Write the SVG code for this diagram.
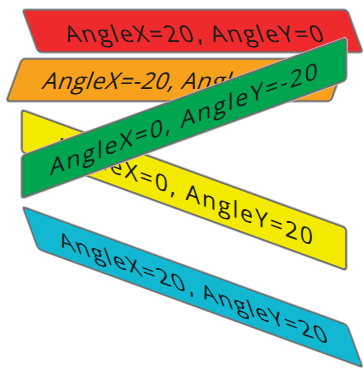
<svg xmlns="http://www.w3.org/2000/svg" width="363" height="371" viewBox="0 0 363 371">
<style>
.halo{fill:none;stroke:#c4c4c4;stroke-width:3.5}
.box{stroke:#6e6e6e;stroke-width:1.6}
.lbl{font-family:"Open Sans","Liberation Sans",sans-serif;font-size:23px;fill:#1c1c1c;text-anchor:middle}
</style>
<defs>
<rect id="shape" x="0" y="0" width="324" height="42" rx="3"/>
</defs>
<rect width="363" height="371" fill="#ffffff"/>
<g id="red" transform="translate(23,10) skewX(20)">
<use href="#shape" class="halo"/>
<use href="#shape" class="box" fill="#ee2a2d"/>
<text class="lbl" x="162" y="32" textLength="258" lengthAdjust="spacing">AngleX=20, AngleY=0</text>
</g>
<g id="orange" transform="translate(22,59) skewX(-20)">
<use href="#shape" class="halo"/>
<use href="#shape" class="box" fill="#f7a11c"/>
<text class="lbl" x="162" y="30" textLength="264" lengthAdjust="spacing">AngleX=-20, AngleY=-20</text>
</g>
<g id="yellow" transform="translate(22,110) skewY(20)">
<use href="#shape" class="halo"/>
<use href="#shape" class="box" fill="#f4ea00"/>
<text class="lbl" x="162" y="30" textLength="258" lengthAdjust="spacing">AngleX=0, AngleY=20</text>
</g>
<g id="green" transform="translate(22,156) skewY(-20)">
<use href="#shape" class="halo"/>
<use href="#shape" class="box" fill="#00a54f"/>
<text class="lbl" x="162" y="30" textLength="268" lengthAdjust="spacing">AngleX=0, AngleY=-20</text>
</g>
<g id="cyan" transform="translate(23,207) matrix(1,0.364,0.364,1,0,0)">
<use href="#shape" class="halo"/>
<use href="#shape" class="box" fill="#12b7d2"/>
<text class="lbl" x="162" y="30" textLength="268" lengthAdjust="spacing">AngleX=20, AngleY=20</text>
</g>
<g id="connectors"/>
</svg>
